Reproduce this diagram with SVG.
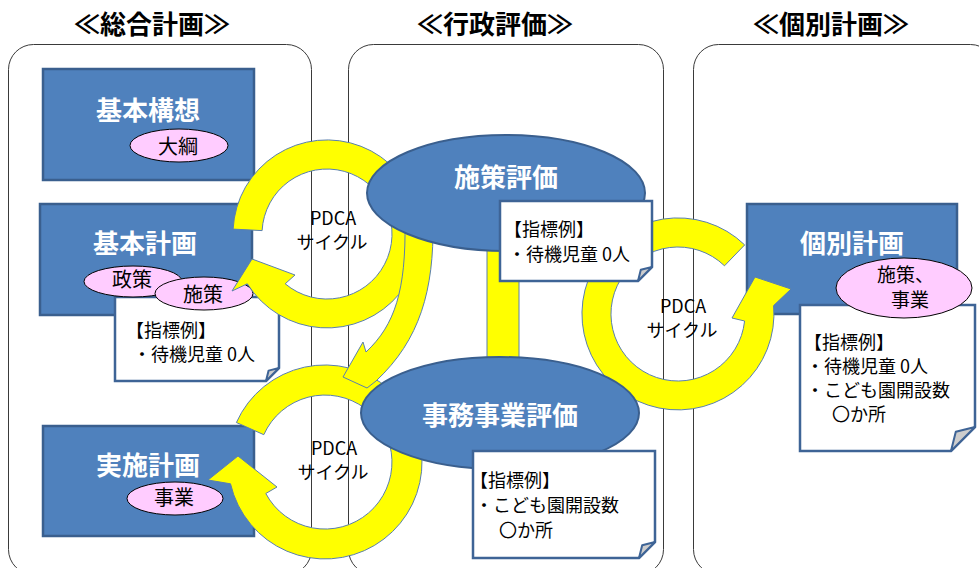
<svg xmlns="http://www.w3.org/2000/svg" width="979" height="568" viewBox="0 0 979 568">
<style>
text{font-family:"Noto Sans CJK JP","Noto Sans",sans-serif}
.panel{fill:#fff;stroke:#3a3a3a;stroke-width:1}
.title{font-size:26px;font-weight:bold;fill:#000;text-anchor:middle}
.box{fill:#4F81BD;stroke:#3A5F8E;stroke-width:2.5}
.ev{fill:#4F81BD;stroke:#3A5F8E;stroke-width:2}
.bt{font-size:26px;font-weight:bold;fill:#fff;text-anchor:middle}
.pink{fill:#FFCCFF;stroke:#000;stroke-width:1}
.pt{font-size:20px;fill:#000;text-anchor:middle}
.ps{font-size:19px;fill:#000}
.note{fill:#fff;stroke:#3E6496;stroke-width:2.5}
.fold{fill:#CDCDCD;stroke:#3E6496;stroke-width:2;stroke-linejoin:round}
.nt{font-size:18px;fill:#000}
.ya{fill:#FFFF00;stroke:#5A7FAE;stroke-width:1}
.pd{font-size:18px;fill:#000;text-anchor:middle}
</style>
<rect width="979" height="568" fill="#fff"/>
<g id="panels">
<rect class="panel" x="8.5" y="44.5" width="303" height="530" rx="25"/>
<rect class="panel" x="348.5" y="44.5" width="315" height="530" rx="25"/>
<rect class="panel" x="693.5" y="44.5" width="302" height="530" rx="25"/>
<text class="title" x="152" y="34">≪総合計画≫</text>
<text class="title" x="495" y="34">≪行政評価≫</text>
<text class="title" x="831" y="34">≪個別計画≫</text>
</g>
<g id="kihon-kousou">
<rect class="box" x="43" y="69" width="211" height="111"/>
<text class="bt" x="148" y="120">基本構想</text>
<ellipse class="pink" cx="179" cy="145.5" rx="49" ry="16.5"/>
<text class="pt" x="178" y="153.5">大綱</text>
</g>
<g id="kihon-keikaku">
<rect class="box" x="40" y="204" width="212" height="111"/>
<text class="bt" x="145" y="253">基本計画</text>
<path class="note" d="M115,297 H279 V368 L266,381 H115 Z"/>
<path class="fold" d="M279,368 L266,381 L268.6,370.6 Z"/>
<text class="nt" x="126" y="336.5">【指標例】</text>
<text class="nt" x="133" y="360.5">・待機児童 0人</text>
<ellipse class="pink" cx="133" cy="281.5" rx="49" ry="15.5"/>
<text class="pt" x="132" y="287">政策</text>
<ellipse class="pink" cx="204" cy="293.5" rx="49" ry="16.5"/>
<text class="pt" x="203" y="301.5">施策</text>
</g>
<g id="jisshi-keikaku">
<rect class="box" x="43" y="426" width="211" height="110"/>
<text class="bt" x="148" y="475">実施計画</text>
<ellipse class="pink" cx="175" cy="498.5" rx="48" ry="16.5"/>
<text class="pt" x="174" y="504.5">事業</text>
</g>
<g id="kobetsu-keikaku">
<rect class="box" x="747" y="204" width="210" height="110"/>
<text class="bt" x="852" y="253">個別計画</text>
<path class="note" d="M800,305 H975 V427 L951,451 H800 Z"/>
<path class="fold" d="M975,427 L951,451 L955.8,431.8 Z"/>
<text class="nt" x="804" y="349">【指標例】</text>
<text class="nt" x="806" y="373">・待機児童 0人</text>
<text class="nt" x="806" y="397">・こども園開設数</text>
<text class="nt" x="832" y="421">〇か所</text>
<ellipse class="pink" cx="904" cy="288" rx="68" ry="30"/>
<text class="ps" x="877" y="282">施策、</text>
<text class="ps" x="891" y="306.5">事業</text>
</g>
<g id="connectors">
<rect class="ya" x="487" y="245" width="32" height="120"/>
<path class="ya" d="M233.1,229.1 A94,94 0 1 1 247.3,283.8 L232,291 L252,259 L295,275 L285.2,283.8 A65,65 0 1 0 262.1,230.6 Z"/>
<path class="ya" d="M236.4,422.5 A97,97 0 1 1 230.5,483.8 L208,480 L238,456 L277,487 L265.8,493.5 A67,67 0 1 0 263.8,434.7 Z"/>
<path class="ya" d="M433,222 C434,290 420,340 376,381 L367,388 L343,377 L363,342 L366,352 C395,325 406,290 405,222 Z"/>
<path class="ya" d="M744.7,244.9 A96,96 0 1 0 773.6,305.6 L791,289 L755,277 L732,318 L744.6,321 A67,67 0 1 1 724.5,265.8 Z"/>
<text class="pd" x="333" y="225">PDCA</text>
<text class="pd" x="332" y="249">サイクル</text>
<text class="pd" x="334" y="455">PDCA</text>
<text class="pd" x="333" y="479">サイクル</text>
<text class="pd" x="683" y="313">PDCA</text>
<text class="pd" x="682" y="337">サイクル</text>
</g>
<g id="shisaku-hyouka">
<ellipse class="ev" cx="506" cy="193" rx="139" ry="58"/>
<text class="bt" x="506" y="187">施策評価</text>
<path class="note" d="M500,201 H652 V267 L638,281 H500 Z"/>
<path class="fold" d="M652,267 L638,281 L640.8,269.8 Z"/>
<text class="nt" x="504" y="236">【指標例】</text>
<text class="nt" x="508" y="261">・待機児童 0人</text>
</g>
<g id="jimu-jigyou-hyouka">
<ellipse class="ev" cx="500" cy="413" rx="139" ry="56"/>
<text class="bt" x="500" y="425">事務事業評価</text>
<path class="note" d="M473,451 H655 V542 L639,558 H473 Z"/>
<path class="fold" d="M655,542 L639,558 L642.2,545.2 Z"/>
<text class="nt" x="470" y="487">【指標例】</text>
<text class="nt" x="475" y="512">・こども園開設数</text>
<text class="nt" x="499" y="537">〇か所</text>
</g>
</svg>
